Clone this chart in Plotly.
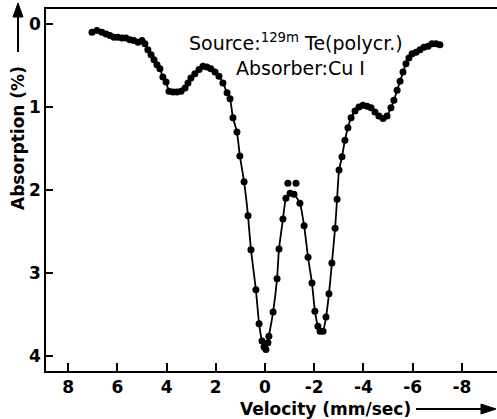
import plotly.graph_objects as go

# Measured points (velocity mm/s, absorption %)
velocity = [7.03, 6.83, 6.63, 6.46, 6.30, 6.14, 5.98, 5.81, 5.65, 5.49, 5.33, 5.16, 5.00, 4.88,
            4.76, 4.63, 4.51, 4.39, 4.27, 4.15, 4.02, 3.90, 3.74, 3.58, 3.41, 3.25, 3.13, 3.01,
            2.85, 2.68, 2.52, 2.36, 2.20, 2.03, 1.87, 1.71, 1.54, 1.42, 1.30, 1.14, 1.02, 0.85,
            0.69, 0.57, 0.37, 0.24, 0.12, 0.04, -0.04, -0.12, -0.16, -0.33, -0.49, -0.57, -0.73,
            -0.85, -1.02, -1.18, -1.42, -1.59, -1.75, -1.91, -2.03, -2.15, -2.24, -2.36, -2.48,
            -2.60, -2.72, -2.85, -2.93, -3.01, -3.13, -3.25, -3.37, -3.50, -3.66, -3.82, -3.98,
            -4.15, -4.31, -4.47, -4.63, -4.80, -4.96, -5.12, -5.24, -5.37, -5.49, -5.61, -5.73,
            -5.85, -5.98, -6.14, -6.30, -6.46, -6.63, -6.79, -6.95, -7.11]
absorption = [0.10, 0.08, 0.10, 0.12, 0.14, 0.16, 0.16, 0.17, 0.17, 0.19, 0.20, 0.22, 0.20, 0.24,
              0.31, 0.37, 0.43, 0.49, 0.54, 0.64, 0.70, 0.81, 0.82, 0.82, 0.81, 0.77, 0.71, 0.65,
              0.60, 0.55, 0.51, 0.52, 0.54, 0.58, 0.63, 0.71, 0.83, 0.90, 1.13, 1.30, 1.59, 1.90,
              2.31, 2.72, 3.20, 3.61, 3.82, 3.89, 3.92, 3.84, 3.76, 3.47, 3.07, 2.71, 2.35,
              2.10, 2.04, 2.05, 2.16, 2.43, 2.81, 3.12, 3.46, 3.64, 3.70, 3.70, 3.53,
              3.25, 2.88, 2.46, 2.11, 1.76, 1.60, 1.40, 1.25, 1.13, 1.05, 1.00, 0.98,
              0.99, 1.01, 1.06, 1.11, 1.14, 1.11, 1.01, 0.92, 0.80, 0.69, 0.58, 0.48,
              0.41, 0.36, 0.34, 0.31, 0.28, 0.27, 0.24, 0.24, 0.25]
# Points lying off the fitted curve
extra_velocity = [-0.93, -1.26]
extra_absorption = [1.92, 1.92]

x_ticks = [8, 6, 4, 2, 0, -2, -4, -6, -8]
y_ticks = [0, 1, 2, 3, 4]

fig = go.Figure()
fig.add_trace(go.Scatter(x=velocity, y=absorption, mode="lines",
                         line=dict(color="black", width=1.8, shape="spline", smoothing=0.5),
                         hoverinfo="skip"))
fig.add_trace(go.Scatter(x=velocity + extra_velocity, y=absorption + extra_absorption,
                         mode="markers", marker=dict(color="black", size=7)))

tickfont = dict(family="DejaVu Sans", size=17, color="black", weight="bold")
fig.update_layout(
    width=497, height=419,
    margin=dict(l=46, r=0, t=9, b=48),
    paper_bgcolor="white", plot_bgcolor="white",
    showlegend=False,
    font=dict(family="DejaVu Sans", color="black"),
    xaxis=dict(range=[8.9, -9.43], tickvals=x_ticks, ticktext=[str(v) for v in x_ticks],
               ticks="inside", ticklen=8, tickwidth=1.5, tickcolor="black",
               showline=True, linecolor="black", linewidth=1.5, mirror=True,
               showgrid=False, zeroline=False, tickfont=tickfont),
    yaxis=dict(range=[4.18, -0.18], tickvals=y_ticks, ticktext=[str(v) for v in y_ticks],
               ticks="inside", ticklen=7, tickwidth=1.5, tickcolor="black",
               showline=True, linecolor="black", linewidth=1.5, mirror=False,
               showgrid=False, zeroline=False, tickfont=tickfont),
)

W, H = 451.0, 362.0
def px(xp):
    return (xp - 46) / W
def py(yp):
    return (371 - yp) / H

fig.add_annotation(x=px(187), y=py(42), xref="paper", yref="paper", xanchor="left", yanchor="middle",
                   text="Source:<sup>129m</sup> Te(polycr.)", showarrow=False,
                   font=dict(size=19, color="black"))
fig.add_annotation(x=px(234), y=py(68), xref="paper", yref="paper", xanchor="left", yanchor="middle",
                   text="Absorber:Cu I", showarrow=False, font=dict(size=19, color="black"))
# y title
fig.add_annotation(x=px(18), y=py(138), xref="paper", yref="paper", xanchor="center", yanchor="middle",
                   text="Absorption (%)", textangle=-90, showarrow=False,
                   font=dict(size=17, color="black", weight="bold"))
# x title
fig.add_annotation(x=px(238), y=py(409), xref="paper", yref="paper", xanchor="left", yanchor="middle",
                   text="Velocity (mm/sec)", showarrow=False,
                   font=dict(size=17, color="black", weight="bold"))

# arrows drawn as shapes
fig.add_shape(type="line", xref="paper", yref="paper", x0=px(18), y0=py(52), x1=px(18), y1=py(14),
              line=dict(color="black", width=2))
fig.add_shape(type="path", xref="paper", yref="paper",
              path=f"M {px(18)} {py(3)} L {px(13)} {py(17)} L {px(23)} {py(17)} Z",
              fillcolor="black", line=dict(color="black", width=1))
fig.add_shape(type="line", xref="paper", yref="paper", x0=px(416), y0=py(409), x1=px(484), y1=py(409),
              line=dict(color="black", width=2))
fig.add_shape(type="path", xref="paper", yref="paper",
              path=f"M {px(496)} {py(409)} L {px(481)} {py(404)} L {px(481)} {py(414)} Z",
              fillcolor="black", line=dict(color="black", width=1))

fig.write_html("out.html")
